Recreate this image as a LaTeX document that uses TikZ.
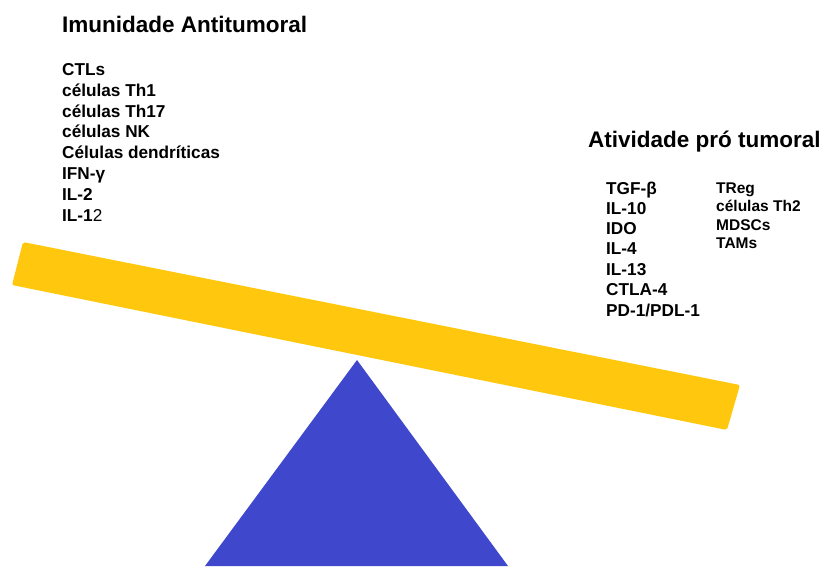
\documentclass[tikz,border=0pt]{standalone}
\usepackage{fontspec}
\setmainfont{Liberation Sans}
\definecolor{barYellow}{RGB}{255,200,14}
\definecolor{baseBlue}{RGB}{63,72,204}
\tikzset{
  ttl/.style={anchor=base west, inner sep=0pt, font=\fontsize{22.5}{27}\selectfont\bfseries},
  itm/.style={anchor=base west, inner sep=0pt, font=\fontsize{17.2}{20}\selectfont\bfseries},
  itms/.style={anchor=base west, inner sep=0pt, font=\fontsize{15.5}{18}\selectfont\bfseries},
}
\begin{document}
\begin{tikzpicture}[x=1pt,y=-1pt]
\useasboundingbox (0,0) rectangle (824,566);
% bar
\fill[barYellow, rounded corners=2pt] (23,242) -- (740,385) -- (727,430) -- (12,285) -- cycle;
% fulcrum
\fill[baseBlue] (357,360) -- (508,566) -- (205,566) -- cycle;
% left texts
\node[ttl] (t1) at (62,32) {Imunidade Antitumoral};
\node[itm] (a1) at (62,75) {CTLs};
\node[itm] (a2) at (62,96) {células Th1};
\node[itm] (a3) at (62,117) {células Th17};
\node[itm] (a4) at (62,137.5) {células NK};
\node[itm] (a5) at (62,158.3) {Células dendríticas};
\node[itm] (a6) at (62,179.2) {IFN-γ};
\node[itm] (a7) at (62,200) {IL-2};
\node[itm] (a8) at (62,221) {IL-1{\mdseries 2}};
% right texts
\node[ttl] (t2) at (588,147) {Atividade pró tumoral};
\node[itm] (b1) at (606,194) {TGF-β};
\node[itm] (b2) at (606,214) {IL-10};
\node[itm] (b3) at (606,234.5) {IDO};
\node[itm] (b4) at (606,254.5) {IL-4};
\node[itm] (b5) at (606,275) {IL-13};
\node[itm] (b6) at (606,295.5) {CTLA-4};
\node[itm] (b7) at (606,316) {PD-1/PDL-1};
\node[itms] (c1) at (716,193) {TReg};
\node[itms] (c2) at (716,211.5) {células Th2};
\node[itms] (c3) at (716,230) {MDSCs};
\node[itms] (c4) at (716,248.5) {TAMs};
\end{tikzpicture}
\end{document}
